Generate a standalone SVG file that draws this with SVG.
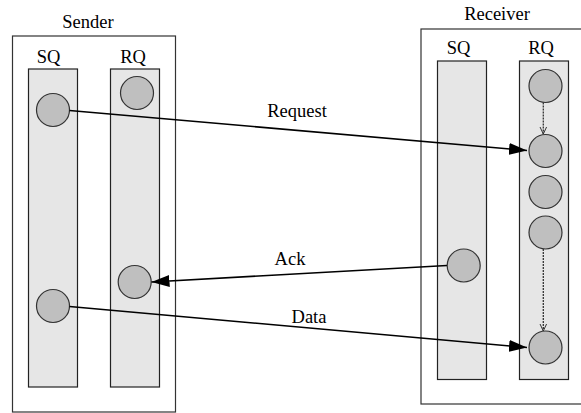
<svg xmlns="http://www.w3.org/2000/svg" width="581" height="413" viewBox="0 0 581 413">
<defs>
<style>
text{font-family:"Liberation Serif","Times New Roman",serif;font-size:18.5px;fill:#000;text-anchor:middle}
.box{fill:#fff;stroke:#333;stroke-width:1.2}
.lane{fill:#e6e6e6;stroke:#222;stroke-width:1.2}
.c{fill:#bfbfbf;stroke:#333;stroke-width:1.2}
.msg{fill:none;stroke:#000;stroke-width:1.6}
.dash{fill:none;stroke:#333;stroke-width:1.3;stroke-dasharray:2,1}
</style>
<marker id="ah" viewBox="0 0 18 12" refX="18" refY="6" markerWidth="18" markerHeight="12" markerUnits="userSpaceOnUse" orient="auto">
<path d="M0,0 L18,6 L0,12 Z" fill="#000"/>
</marker>
<marker id="oh" viewBox="0 0 8 8" refX="7.5" refY="4" markerWidth="8" markerHeight="8" markerUnits="userSpaceOnUse" orient="auto">
<path d="M0,0.5 L7.5,4 L0,7.5" fill="none" stroke="#333" stroke-width="1"/>
</marker>
</defs>
<rect width="581" height="413" fill="#fff"/>
<g id="sender">
<text x="88" y="28">Sender</text>
<rect class="box" x="12.5" y="36" width="163" height="376"/>
<text x="48.5" y="63">SQ</text>
<text x="133" y="63">RQ</text>
<rect class="lane" x="28.5" y="69" width="49" height="318"/>
<rect class="lane" x="110.5" y="69" width="49" height="318"/>
</g>
<g id="receiver">
<text x="497" y="20">Receiver</text>
<rect class="box" x="421" y="29" width="170" height="375"/>
<text x="458.5" y="54">SQ</text>
<text x="541" y="54">RQ</text>
<rect class="lane" x="437.5" y="61" width="49" height="318.5"/>
<rect class="lane" x="519.5" y="61" width="49" height="318.5"/>
</g>
<g id="s-sq1"><circle class="c" cx="53" cy="110" r="16.5"/></g>
<g id="s-rq1"><circle class="c" cx="137" cy="93" r="16.5"/></g>
<g id="s-rq2"><circle class="c" cx="134.7" cy="282" r="16.5"/></g>
<g id="s-sq2"><circle class="c" cx="53" cy="306" r="16.5"/></g>
<g id="r-sq1"><circle class="c" cx="463.7" cy="265.5" r="16.5"/></g>
<g id="r-rq1"><circle class="c" cx="545.5" cy="86" r="16.5"/></g>
<g id="r-rq2"><circle class="c" cx="545.5" cy="151" r="16.5"/></g>
<g id="r-rq3"><circle class="c" cx="545.5" cy="192" r="16.5"/></g>
<g id="r-rq4"><circle class="c" cx="545.5" cy="232.5" r="16.5"/></g>
<g id="r-rq5"><circle class="c" cx="545.5" cy="347.5" r="16.5"/></g>
<g id="connectors">
<line class="msg" x1="69.5" y1="110.5" x2="527" y2="150.5" marker-end="url(#ah)"/>
<line class="msg" x1="447" y1="265.5" x2="151.5" y2="282" marker-end="url(#ah)"/>
<line class="msg" x1="69.5" y1="306.5" x2="527" y2="347.5" marker-end="url(#ah)"/>
<line class="dash" x1="543.3" y1="102.5" x2="543.3" y2="134" marker-end="url(#oh)"/>
<line class="dash" x1="543.3" y1="249" x2="543.3" y2="331" marker-end="url(#oh)"/>
<text x="297" y="117">Request</text>
<text x="290" y="265">Ack</text>
<text x="309" y="323">Data</text>
</g>
</svg>
